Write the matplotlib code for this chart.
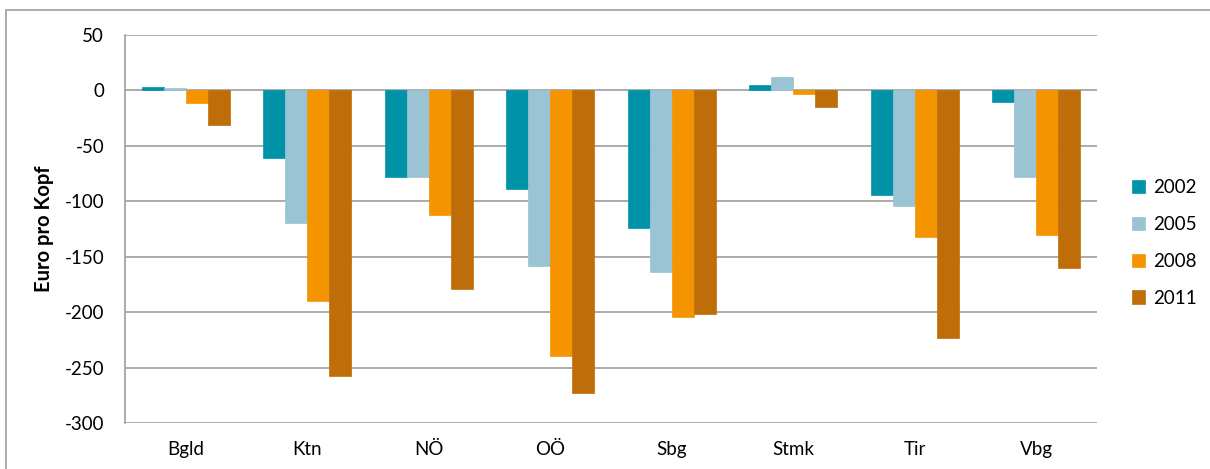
import matplotlib
matplotlib.use("Agg")
import matplotlib.pyplot as plt
from matplotlib.patches import Rectangle
import numpy as np

plt.rcParams['font.family'] = ['Lato', 'DejaVu Sans']

regions = ["Bgld", "Ktn", "NÖ", "OÖ", "Sbg", "Stmk", "Tir", "Vbg"]
years = ["2002", "2005", "2008", "2011"]
v2002 = [3, -61, -78, -89, -124, 5, -94, -10]
v2005 = [2, -120, -78, -158, -164, 12, -104, -78]
v2008 = [-11, -190, -112, -240, -204, -3, -132, -130]
v2011 = [-31, -258, -179, -273, -202, -15, -223, -160]
y_ticks = [50, 0, -50, -100, -150, -200, -250, -300]

series = [v2002, v2005, v2008, v2011]
colors = ["#0093A7", "#9AC4D3", "#F39400", "#BE6D08"]

W, H = 1210, 469
fig = plt.figure(figsize=(W / 100, H / 100), dpi=100)
ax = fig.add_axes([125 / W, (H - 423) / H, (1097 - 125) / W, (423 - 35) / H])

x = np.arange(len(regions))
bw = 0.181
for i, (vals, col, yr) in enumerate(zip(series, colors, years)):
    ax.bar(x + (i - 1.5) * bw, vals, width=bw, color=col, label=yr,
           edgecolor=col, linewidth=0.5, zorder=3)

ax.set_xlim(-0.5, len(regions) - 0.5)
ax.set_ylim(-300, 50)
ax.set_yticks(y_ticks)
ax.set_yticklabels([str(t) for t in y_ticks])
ax.set_xticks(x)
ax.set_xticklabels(regions)
ax.tick_params(axis='both', length=0, labelsize=13.5, colors='black')
ax.tick_params(axis='y', pad=15)
ax.tick_params(axis='x', pad=13)
ax.yaxis.grid(True, color='#9d9d9d', linewidth=1.2, zorder=0)
ax.set_axisbelow(True)
for s in ['top', 'right', 'bottom']:
    ax.spines[s].set_visible(False)
ax.spines['left'].set_color('#9d9d9d')
ax.spines['left'].set_linewidth(1.2)

ax.set_ylabel("Euro pro Kopf", fontsize=14.5, fontweight='bold')
ax.yaxis.set_label_coords(-(125 - 54) / (1097 - 125), 0.5)

fig.legend(loc='center left', bbox_to_anchor=(1115 / W, 1 - 243 / H),
           frameon=False, fontsize=13.5, handlelength=0.7, handleheight=0.7,
           handletextpad=0.45, labelspacing=1.05)

# outer chart frame
fig.patches.append(Rectangle((5.5 / W, -0.2), 2.0, (H - 10.5) / H + 0.2,
                             transform=fig.transFigure, fill=False,
                             edgecolor='#9d9d9d', linewidth=1.2))

fig.savefig("out.png", dpi=100, facecolor='white')
